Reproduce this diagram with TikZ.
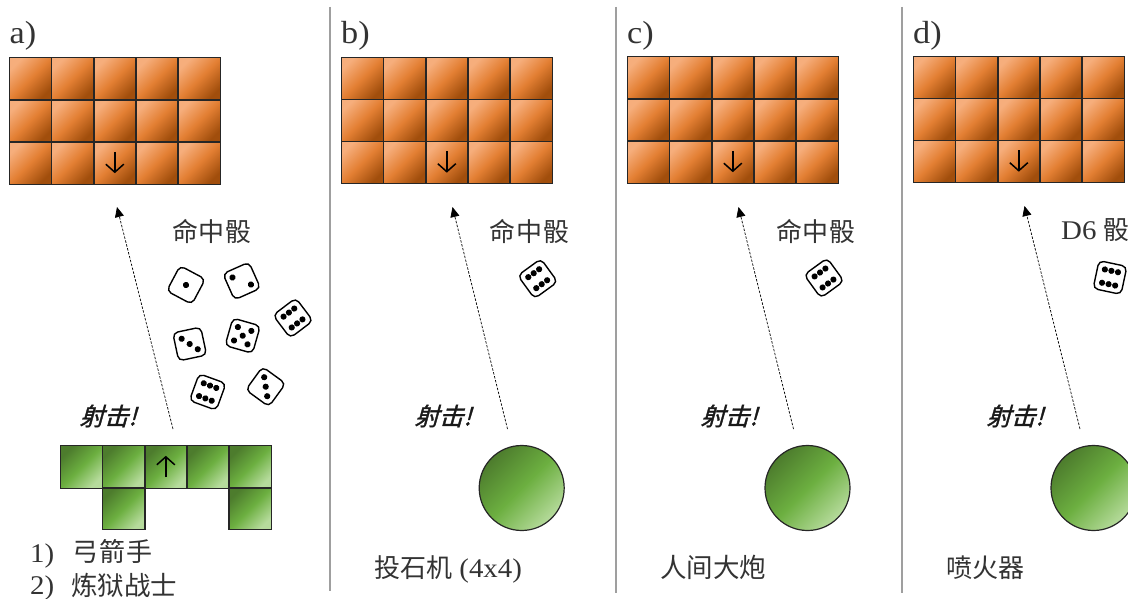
\documentclass[tikz,border=0pt]{standalone}
\usepackage{fontspec}
\setmainfont[FakeStretch=1.07]{Liberation Serif}
\newfontfamily\cjk{Noto Sans CJK SC}
\newfontfamily\cjkshot[FakeSlant=0.28,FakeBold=1.5]{Noto Sans CJK SC}
\usetikzlibrary{arrows.meta}
\definecolor{orangeL}{HTML}{F6AE7C}
\definecolor{orangeM}{HTML}{E37F33}
\definecolor{orangeD}{HTML}{A14E0C}
\definecolor{greenD}{HTML}{4D7C2D}
\definecolor{greenM}{HTML}{6CAF40}
\definecolor{greenL}{HTML}{B6DB9C}
\pgfdeclareverticalshading{orangeS}{100bp}{color(0bp)=(orangeD); color(25bp)=(orangeD); color(50bp)=(orangeM); color(75bp)=(orangeL); color(100bp)=(orangeL)}
\pgfdeclareverticalshading{greenS}{100bp}{color(0bp)=(greenL); color(25bp)=(greenL); color(50bp)=(greenM); color(75bp)=(greenD); color(100bp)=(greenD)}
\tikzset{
  orangecell/.style={rectangle,inner sep=0,minimum width=42.2pt,minimum height=42pt,shading=orangeS,shading angle=45},
  greencell/.style={rectangle,inner sep=0,minimum width=42.2pt,minimum height=42pt,shading=greenS,shading angle=45},
  cellframe/.style={draw=black!85,line width=1.2pt},
  ball/.style={draw=black!85,line width=1.2pt,circle,inner sep=0,minimum size=85pt,shading=greenS,shading angle=45},
  diebox/.style={draw=black,line width=1.4pt,rectangle,rounded corners=5pt,inner sep=0,minimum size=28.5pt},
  pip/.style={fill=black,draw=none},
  cellarrow/.style={line width=1.5pt,-{Straight Barb[length=8pt,width=18pt,line width=1.5pt]}},
  shot/.style={line width=0.7pt,dash pattern=on 2.5pt off 1.5pt,-{Stealth[length=10pt,width=9pt,inset=0pt]}},
  divider/.style={line width=1.3pt,draw=gray!75},
  lbl/.style={inner sep=0,text=black!80},
  cjklabel/.style={lbl,font=\cjk\fontsize{26}{28}\selectfont},
  shotlabel/.style={lbl,font=\cjkshot\fontsize{24.5}{26}\selectfont,text=black!90},
  letter/.style={lbl,font=\fontsize{32}{34}\selectfont,anchor=base west},
  listnum/.style={lbl,font=\fontsize{27}{29}\selectfont,anchor=base west},
}
\newcommand{\frameit}[1]{\draw[cellframe] (#1.north west) rectangle (#1.south east);}
\newcommand{\targetgrid}[3]{%
  \foreach \r in {1,2,3}{\foreach \c in {1,2,3,4,5}{%
    \node[orangecell] (#1-\r-\c) at ({#2+(\c-0.5)*42.2},{#3+(\r-0.5)*42}) {};
  }}
  \foreach \r in {1,2,3}{\foreach \c in {1,2,3,4,5}{\frameit{#1-\r-\c}}}
  \draw[cellarrow,shorten <=10pt,shorten >=11pt] (#1-3-3.north) -- (#1-3-3.south);
}
\newcommand{\diepips}[1]{%
  \foreach \px/\py in {#1}{\fill[pip] (\px,\py) circle (3.1pt);}%
}
\newcommand{\onedie}[5]{%
  \node[diebox,rotate=#4] (#1) at (#2,#3) {};
  \begin{scope}[shift={(#2,#3)},rotate=#4]
    \ifcase#5\or
      \diepips{0/0}\or
      \diepips{-7/-7,7/7}\or
      \diepips{-6.8/-6.8,0/0,6.8/6.8}\or\or
      \diepips{-7/-7,7/-7,0/0,-7/7,7/7}\or
      \diepips{-6.7/-6.8,0/-6.8,6.7/-6.8,-6.7/6.8,0/6.8,6.7/6.8}\fi
  \end{scope}
}
\begin{document}
\begin{tikzpicture}[x=1pt,y=-1pt]
\useasboundingbox (0,0) rectangle (1128,599);
\clip (0,0) rectangle (1128,599);
% dividers
\coordinate (d1t) at (330,7); \coordinate (d1b) at (330,591);
\coordinate (d2t) at (616,7); \coordinate (d2b) at (616,593);
\coordinate (d3t) at (902,7); \coordinate (d3b) at (902,593);
\draw[divider] (d1t) -- (d1b);
\draw[divider] (d2t) -- (d2b);
\draw[divider] (d3t) -- (d3b);
% letters
\node[letter] (la) at (9.5,43.5) {a)};
\node[letter] (lb) at (341,43.5) {b)};
\node[letter] (lc) at (627,43.5) {c)};
\node[letter] (ld) at (913,43.5) {d)};
% target grids
\targetgrid{A}{9.3}{58}
\targetgrid{B}{341.3}{57.5}
\targetgrid{C}{627.3}{57}
\targetgrid{D}{913.3}{56.5}
% panel a attackers
\foreach \c in {1,2,3,4,5}{\node[greencell] (G-1-\c) at ({60.3+(\c-0.5)*42.2},467) {};}
\node[greencell] (G-2-2) at ({60.3+1.5*42.2},508.5) {};
\node[greencell] (G-2-5) at ({60.3+4.5*42.2},508.5) {};
\foreach \c in {1,2,3,4,5}{\frameit{G-1-\c}}
\frameit{G-2-2}
\frameit{G-2-5}
\draw[cellarrow,shorten <=11pt,shorten >=10pt] (G-1-3.south) -- (G-1-3.north);
% balls
\node[ball] (Bb) at (521.7,488) {};
\node[ball] (Bc) at (807.5,488) {};
\node[ball] (Bd) at (1093.5,488) {};
% shots
\coordinate (sa0) at (173,429); \coordinate (sa1) at (117,207);
\coordinate (sb0) at (507.5,429); \coordinate (sb1) at (452.5,207);
\coordinate (sc0) at (793.5,429); \coordinate (sc1) at (738.5,207);
\coordinate (sd0) at (1080,429); \coordinate (sd1) at (1024.5,206);
\draw[shot] (sa0) -- (sa1);
\draw[shot] (sb0) -- (sb1);
\draw[shot] (sc0) -- (sc1);
\draw[shot] (sd0) -- (sd1);
% labels
\node[cjklabel] (ha) at (212,231) {命\hspace{1pt}中\hspace{1pt}骰};
\node[cjklabel] (hb) at (529.5,231) {命\hspace{1pt}中\hspace{1pt}骰};
\node[cjklabel] (hc) at (816,231) {命\hspace{1pt}中\hspace{1pt}骰};
\node[lbl,font=\fontsize{27}{29}\selectfont,anchor=base west] (hd) at (1061,240) {D6 {\cjk\fontsize{26}{28}\selectfont 骰}};
\node[shotlabel] (fa) at (108,416) {射击!};
\node[shotlabel] (fb) at (443,416) {射击!};
\node[shotlabel] (fc) at (729,416) {射击!};
\node[shotlabel] (fd) at (1015,416) {射击!};
% dice
\onedie{d1}{186}{285}{-28}{1}
\onedie{d2}{241.7}{281}{24}{2}
\onedie{d3}{293}{318}{37}{6}
\onedie{d4}{189.7}{344}{12}{3}
\onedie{d5}{242.7}{335.7}{-16}{5}
\onedie{d6}{207.7}{392}{-20}{6}
\onedie{d7}{265.7}{386.7}{-36}{3}
\onedie{db}{537.7}{278.7}{36}{6}
\onedie{dc}{824}{278}{36}{6}
\onedie{dd}{1110}{277.5}{-12}{6}
% captions
\node[listnum] (n1) at (30,562) {1)};
\node[cjklabel,anchor=base west] (t1) at (72,561) {弓\hspace{1pt}箭\hspace{1pt}手};
\node[listnum] (n2) at (30,594) {2)};
\node[cjklabel,anchor=base west,font=\cjk\fontsize{26.5}{28}\selectfont] (t2) at (71,595) {炼狱战士};
\node[lbl,anchor=base west] (tb) at (374,577) {{\cjk\fontsize{26}{28}\selectfont 投石机}\fontsize{27}{29}\selectfont\ (4x4)};
\node[cjklabel,anchor=base west,font=\cjk\fontsize{26.5}{28}\selectfont] (tc) at (660,577) {人间大炮};
\node[cjklabel,anchor=base west] (td) at (946,577) {喷火器};
\end{tikzpicture}
\end{document}
